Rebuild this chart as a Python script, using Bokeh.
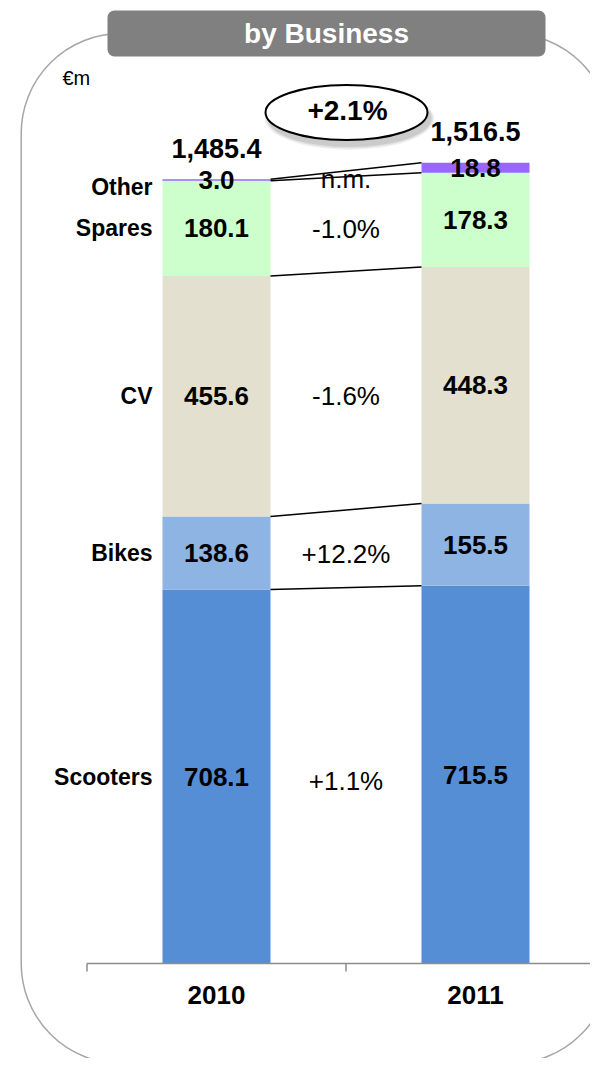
from bokeh.plotting import figure
from bokeh.models import BoxAnnotation, Range1d, ColumnDataSource
from bokeh.core.properties import value
from bokeh.embed import file_html
from bokeh.resources import INLINE

# ---------------- data ----------------
years = ["2010", "2011"]
categories = ["Scooters", "Bikes", "CV", "Spares", "Other"]
values_2010 = [708.1, 138.6, 455.6, 180.1, 3.0]
values_2011 = [715.5, 155.5, 448.3, 178.3, 18.8]
totals = [1485.4, 1516.5]
changes = ["+1.1%", "+12.2%", "-1.6%", "-1.0%", "n.m."]
total_change = "+2.1%"
unit_label = "€m"
title_text = "by Business"

# ---------------- styles ----------------
colors = ["#558ED5", "#8EB4E3", "#E3E0CF", "#CCFFCC", "#9966FF"]
FONT = value("Liberation Sans")

# ---------------- geometry ----------------
W, H = 590, 1058
PXX = 259.0      # px per category unit
PXY = 0.528      # px per EUR m
x_start = 1 - 216 / PXX
x_end = x_start + W / PXX
y_start = -(H - 963) / PXY
y_end = y_start + H / PXY
BAR_W = 108 / PXX


def dx(px):
    return x_start + px / PXX


def dy(py):
    return y_start + (H - py) / PXY


p = figure(width=W, height=H, x_range=Range1d(x_start, x_end),
           y_range=Range1d(y_start, y_end), output_backend="svg",
           toolbar_location=None, x_axis_type=None, y_axis_type=None,
           min_border=0, outline_line_color=None)
p.background_fill_color = "white"
p.border_fill_color = "white"

# frame outline and header box
frame = BoxAnnotation(left=dx(20.7), right=dx(610), top=dy(33), bottom=dy(1063),
                      border_radius=100, fill_color=None, fill_alpha=0,
                      line_color="#A6A6A6", line_width=1.5, line_alpha=1,
                      line_dash="solid", level="underlay")
p.add_layout(frame)
header = BoxAnnotation(left=dx(107), right=dx(545), top=dy(10), bottom=dy(56),
                       border_radius=7, fill_color="#808080", fill_alpha=1,
                       line_color=None, level="underlay")
p.add_layout(header)
p.text(x=[dx(326)], y=[dy(33)], text=[title_text], text_font=FONT,
       text_font_style="bold", text_font_size="28px", text_color="white",
       text_align="center", text_baseline="middle")
p.text(x=[dx(62)], y=[dy(77)], text=[unit_label], text_font=FONT,
       text_font_size="20px", text_color="black", text_align="left",
       text_baseline="middle")

# stacked bars
bx, bbot, btop, bcol, blab = [], [], [], [], []
tops = []
centers = []
for xi, vals in zip([1, 2], [values_2010, values_2011]):
    cum = 0.0
    t, c = [], []
    for v, col in zip(vals, colors):
        bx.append(xi)
        bbot.append(cum)
        btop.append(cum + v)
        bcol.append(col)
        blab.append(f"{v:.1f}")
        c.append(cum + v / 2)
        cum += v
        t.append(cum)
    tops.append(t)
    centers.append(c)

src = ColumnDataSource(dict(x=bx, bottom=bbot, top=btop, color=bcol,
                            mid=[(a + b) / 2 for a, b in zip(bbot, btop)],
                            label=blab))
p.vbar(x="x", bottom="bottom", top="top", width=BAR_W, fill_color="color",
       line_color=None, source=src)

# percentage changes (drawn under connectors)
pct_y = [(a + b) / 2 - 5 / PXY for a, b in zip(centers[0], centers[1])]
p.text(x=[1.5] * len(changes), y=pct_y, text=changes, text_font=FONT,
       text_font_size="26px", text_color="black", text_align="center",
       text_baseline="middle")

# connector lines
p.segment(x0=[1 + BAR_W / 2] * len(categories), y0=tops[0],
          x1=[2 - BAR_W / 2] * len(categories), y1=tops[1],
          line_color="black", line_width=1.5)

# value labels
p.text(x="x", y="mid", text="label", source=src, text_font=FONT,
       text_font_style="bold", text_font_size="26px", text_color="black",
       text_align="center", text_baseline="middle")

# totals
p.text(x=[1, 2], y=[t + 31 / PXY for t in totals],
       text=[f"{t:,.1f}" for t in totals], text_font=FONT,
       text_font_style="bold", text_font_size="27px", text_color="black",
       text_align="center", text_baseline="middle")

# category labels
cat_y = list(centers[0])
cat_y[-1] = cat_y[-1] - 7 / PXY
p.text(x=[1 - BAR_W / 2 - 10 / PXX] * len(categories), y=cat_y,
       text=categories, text_font=FONT, text_font_style="bold",
       text_font_size="23px", text_color="black", text_align="right",
       text_baseline="middle")

# x axis (line, boundary ticks, year labels)
p.segment(x0=[0.5], y0=[0], x1=[x_end + 1], y1=[0], line_color="#8C8C8C",
          line_width=1.5)
p.segment(x0=[0.5, 1.5, 2.5], y0=[0, 0, 0], x1=[0.5, 1.5, 2.5],
          y1=[-8 / PXY] * 3, line_color="#8C8C8C", line_width=1.5)
p.text(x=[1, 2], y=[-31 / PXY] * 2, text=years, text_font=FONT,
       text_font_style="bold", text_font_size="26px", text_color="black",
       text_align="center", text_baseline="middle")

# total-change ellipse with soft shadow
ex, ey = dx(346), dy(112)
ew, eh = 162 / PXX, 55 / PXY
for grow, alpha in [(8, 0.05), (5, 0.07), (2, 0.09)]:
    p.ellipse(x=[ex + 3 / PXX], y=[ey - 6 / PXY], width=ew + grow / PXX,
              height=eh + grow / PXY, fill_color="black", fill_alpha=alpha,
              line_color=None)
p.ellipse(x=[ex], y=[ey], width=ew, height=eh, fill_color="white",
          line_color="black", line_width=2)
p.text(x=[dx(347)], y=[dy(110)], text=[total_change], text_font=FONT,
       text_font_style="bold", text_font_size="28px", text_color="black",
       text_align="center", text_baseline="middle")

open("out.html", "w").write(file_html(p, INLINE))
